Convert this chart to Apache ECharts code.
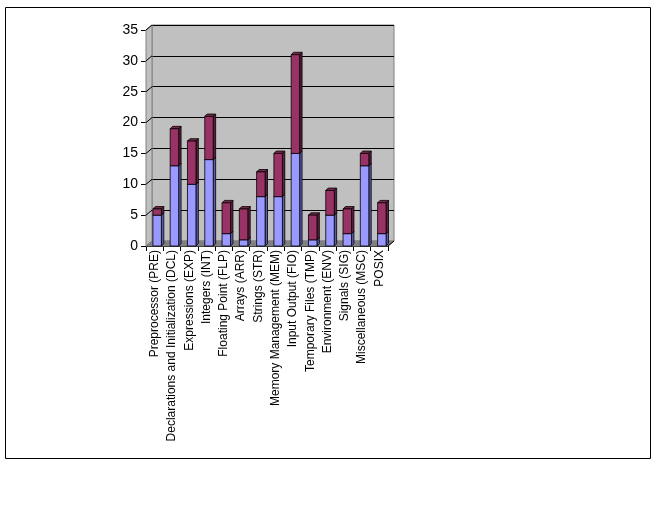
<!DOCTYPE html>
<html><head><meta charset="utf-8">
<script src="https://cdn.jsdelivr.net/npm/echarts@6/dist/echarts.min.js"></script>
<style>html,body{margin:0;padding:0;background:#fff}#c{width:656px;height:512px}</style>
</head><body><div id="c"></div>
<script>
const categories = ["Preprocessor (PRE)","Declarations and Initialization (DCL)","Expressions (EXP)","Integers (INT)","Floating Point (FLP)","Arrays (ARR)","Strings (STR)","Memory Management (MEM)","Input Output (FIO)","Temporary Files (TMP)","Environment (ENV)","Signals (SIG)","Miscellaneous (MSC)","POSIX"];
const seriesA = [5,13,10,14,2,1,8,8,15,1,5,2,13,2];
const seriesB = [1,6,7,7,5,5,4,7,16,4,4,4,2,5];
const yTicks = [0,5,10,15,20,25,30,35];

const DX = 6, DY = -5;       // wall depth
const BX = 2.5, BW = 8.5, BD = 2.4; // bar offset, width, depth

const chart = echarts.init(document.getElementById('c'), null, {renderer:'canvas'});

function barItem(front, side, top) {
  return function(params, api) {
    const i = api.value(0), lo = api.value(1), hi = api.value(2);
    const p0 = api.coord([i, lo]), p1 = api.coord([i, hi]);
    const x0 = p0[0] - BW/2 + BX, x1 = x0 + BW;
    const yb = p0[1], yt = p1[1];
    const s = {stroke:'#000', lineWidth:0.8};
    return {type:'group', children:[
      {type:'polygon', shape:{points:[[x1,yb],[x1+BD,yb-BD],[x1+BD,yt-BD],[x1,yt]]}, style:Object.assign({fill:side}, s)},
      {type:'polygon', shape:{points:[[x0,yt],[x0+BD,yt-BD],[x1+BD,yt-BD],[x1,yt]]}, style:Object.assign({fill:top}, s)},
      {type:'rect', shape:{x:x0, y:yt, width:BW, height:yb-yt}, style:Object.assign({fill:front}, s)}
    ]};
  };
}

function frameItem(params, api) {
  const n = categories.length;
  const bw = api.size([1,0])[0];
  const a = api.coord([0, 0]), b = api.coord([n-1, 0]);
  const xL = a[0] - bw/2, xR = b[0] + bw/2;
  const y0 = a[1], yTop = api.coord([0, yTicks[yTicks.length-1]])[1];
  const ch = [];
  ch.push({type:'polygon', shape:{points:[[xL,yTop],[xL+DX,yTop+DY],[xL+DX,y0+DY],[xL,y0]]}, style:{fill:'#C0C0C0', stroke:'#808080', lineWidth:1}});
  ch.push({type:'polygon', shape:{points:[[xL,y0],[xL+DX,y0+DY],[xR+DX,y0+DY],[xR,y0]]}, style:{fill:'#808080', stroke:'#808080', lineWidth:1}});
  yTicks.forEach(function(t){
    if (t === 0) return;
    const y = api.coord([0, t])[1];
    ch.push({type:'line', shape:{x1:xL, y1:y, x2:xL+DX, y2:y+DY}, style:{stroke:'#000', lineWidth:1}});
  });
  ch.push({type:'line', shape:{x1:xR, y1:y0, x2:xR+DX, y2:y0+DY}, style:{stroke:'#000', lineWidth:1}});
  return {type:'group', children:ch};
}

const frameData = [[0, 0]];
const dataA = seriesA.map((v,i)=>[i, 0, v]);
const dataB = seriesB.map((v,i)=>[i, seriesA[i], seriesA[i]+v]);

chart.setOption({
  animation:false,
  backgroundColor:'#fff',
  graphic:[{type:'rect', shape:{x:5.5, y:7.5, width:645, height:451}, style:{fill:null, stroke:'#000', lineWidth:1}, z:-10, silent:true}],
  grid:[
    {left:146, top:30, width:242, height:216, show:false},
    {left:146+DX, top:30+DY, width:242, height:216, show:true, backgroundColor:'#C0C0C0', borderColor:'#808080', borderWidth:1}
  ],
  xAxis:[
    {type:'category', gridIndex:0, data:categories,
     axisLine:{lineStyle:{color:'#000', width:1}},
     axisTick:{show:true, length:5, lineStyle:{color:'#000'}},
     axisLabel:{rotate:90, interval:0, color:'#000', fontFamily:'Liberation Sans, Arial, sans-serif', fontSize:12, margin:4}},
    {type:'category', gridIndex:1, data:categories, show:false}
  ],
  yAxis:[
    {type:'value', gridIndex:0, min:0, max:35, interval:5,
     axisLine:{show:true, lineStyle:{color:'#000'}},
     axisTick:{show:true, length:5, lineStyle:{color:'#000'}},
     splitLine:{show:false},
     axisLabel:{color:'#000', fontFamily:'Liberation Sans, Arial, sans-serif', fontSize:14, margin:8}},
    {type:'value', gridIndex:1, min:0, max:35, interval:5,
     axisLine:{show:false}, axisTick:{show:false}, axisLabel:{show:false},
     splitLine:{show:true, lineStyle:{color:'#000', width:1}}}
  ],
  series:[
    {type:'custom', xAxisIndex:0, yAxisIndex:0, data:frameData, renderItem:frameItem, z:1, silent:true},
    {type:'custom', name:'A', xAxisIndex:0, yAxisIndex:0, data:dataA, encode:{x:0, y:[1,2]}, renderItem:barItem('#9999FF','#5C5CA8','#7777CC'), z:3},
    {type:'custom', name:'B', xAxisIndex:0, yAxisIndex:0, data:dataB, encode:{x:0, y:[1,2]}, renderItem:barItem('#993366','#5E1F3E','#7A2950'), z:3}
  ]
});
</script></body></html>
